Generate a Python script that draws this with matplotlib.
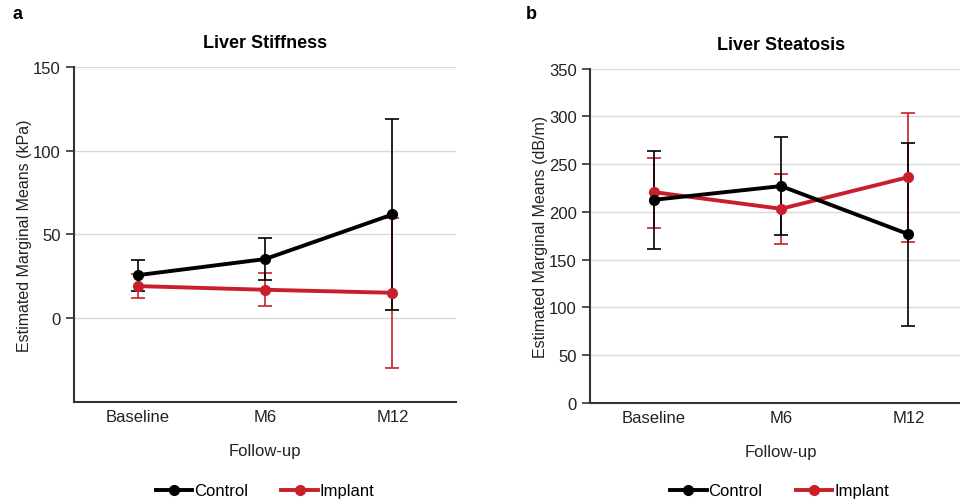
import matplotlib.pyplot as plt
import numpy as np

plt.rcParams['font.family'] = ['Liberation Sans', 'DejaVu Sans']

# data
visits = ['Baseline', 'M6', 'M12']

stiff_control = [25.7, 35.3, 61.9]
stiff_control_lo = [16.5, 23.0, 5.2]
stiff_control_hi = [34.7, 48.0, 118.6]
stiff_implant = [19.2, 17.0, 15.2]
stiff_implant_lo = [11.8, 7.2, -29.5]
stiff_implant_hi = [26.3, 27.0, 60.0]

steat_control = [212.6, 227.0, 176.6]
steat_control_lo = [161.0, 175.9, 80.8]
steat_control_hi = [263.7, 278.7, 272.0]
steat_implant = [220.7, 203.2, 236.4]
steat_implant_lo = [183.3, 166.8, 168.5]
steat_implant_hi = [256.7, 239.9, 303.5]

BLACK = '#000000'
RED = '#c8202b'
AXC = '#333333'
GRID = '#d9d9d9'

fig = plt.figure(figsize=(9.6, 5.02), dpi=100)
ax_a = fig.add_axes([0.0771, 0.197, 0.398, 0.668])
ax_b = fig.add_axes([0.6146, 0.196, 0.398, 0.665])


def draw(ax, series, ylim, yticks, title, ylabel):
    x = np.arange(len(visits))
    for mean, lo, hi, col, name in series:
        mean = np.array(mean)
        err = [mean - np.array(lo), np.array(hi) - mean]
        ax.errorbar(x, mean, yerr=err, fmt='none', ecolor=col, elinewidth=1.2,
                    capsize=5, capthick=1.2, zorder=3)
        ax.plot(x, mean, '-o', color=col, lw=2.8, ms=7, label=name, zorder=4)
    ax.set_xlim(-0.5, 2.5)
    ax.set_ylim(*ylim)
    ax.set_yticks(yticks)
    ax.set_xticks(x)
    ax.set_xticklabels(visits)
    ax.yaxis.grid(True, color=GRID, lw=1)
    ax.set_axisbelow(True)
    for s in ['top', 'right']:
        ax.spines[s].set_visible(False)
    for s in ['left', 'bottom']:
        ax.spines[s].set_color(AXC)
        ax.spines[s].set_linewidth(1.5)
    ax.tick_params(axis='x', length=0, labelsize=12, pad=5, colors='#222222')
    ax.tick_params(axis='y', length=6, width=1.2, color=AXC, labelsize=12,
                   labelcolor='#222222')
    ax.set_title(title, fontsize=13, fontweight='bold', pad=14)
    ax.set_ylabel(ylabel, fontsize=11.5, color='#222222', labelpad=1)
    ax.set_xlabel('Follow-up', fontsize=12, labelpad=14, color='#222222')


draw(ax_a,
     [(stiff_implant, stiff_implant_lo, stiff_implant_hi, RED, 'Implant'),
      (stiff_control, stiff_control_lo, stiff_control_hi, BLACK, 'Control')],
     (-50, 150), [0, 50, 100, 150], 'Liver Stiffness',
     'Estimated Marginal Means (kPa)')

draw(ax_b,
     [(steat_implant, steat_implant_lo, steat_implant_hi, RED, 'Implant'),
      (steat_control, steat_control_lo, steat_control_hi, BLACK, 'Control')],
     (0, 350), [0, 50, 100, 150, 200, 250, 300, 350], 'Liver Steatosis',
     'Estimated Marginal Means (dB/m)')

for ax, cx in [(ax_a, 0.276), (ax_b, 0.812)]:
    h, l = ax.get_legend_handles_labels()
    fig.legend(h[::-1], l[::-1], loc='center', bbox_to_anchor=(cx, 0.02),
               ncol=2, frameon=False, fontsize=12, handlelength=2.2,
               handletextpad=0.1, columnspacing=2.0, borderpad=0)

fig.text(0.013, 0.962, 'a', fontsize=13, fontweight='bold')
fig.text(0.548, 0.962, 'b', fontsize=13, fontweight='bold')

fig.savefig('out.png', dpi=100)
